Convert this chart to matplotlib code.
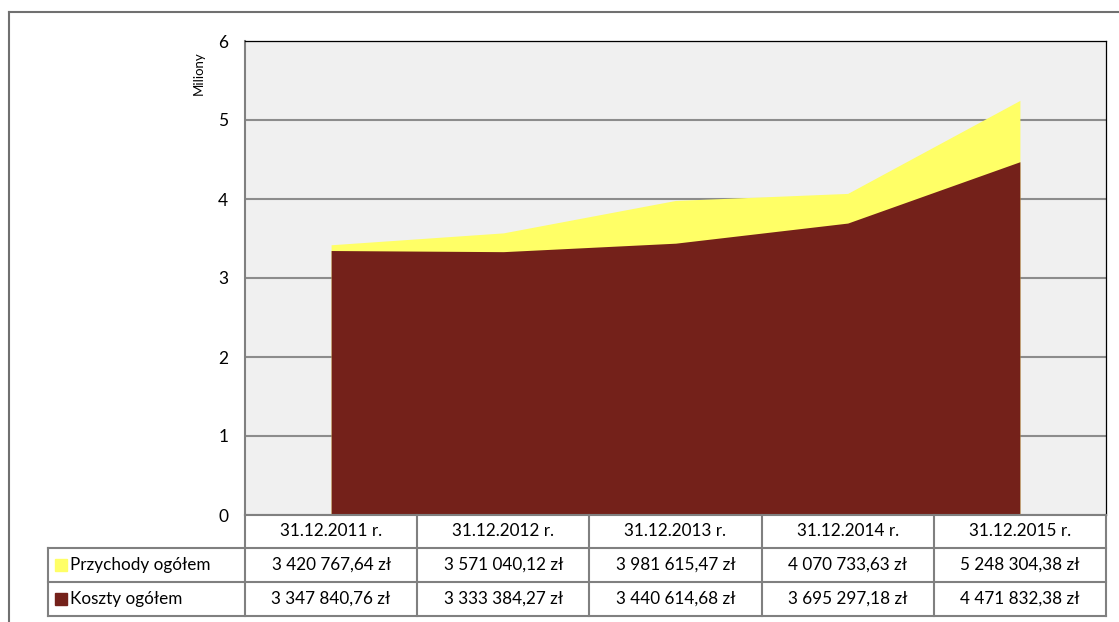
import matplotlib
matplotlib.use("Agg")
import matplotlib.pyplot as plt
from matplotlib.patches import Rectangle
from matplotlib.lines import Line2D

plt.rcParams['font.family'] = ['Lato', 'DejaVu Sans']

categories = ["31.12.2011 r.", "31.12.2012 r.", "31.12.2013 r.", "31.12.2014 r.", "31.12.2015 r."]
przychody = [3420767.64, 3571040.12, 3981615.47, 4070733.63, 5248304.38]
koszty = [3347840.76, 3333384.27, 3440614.68, 3695297.18, 4471832.38]
series_names = ["Przychody ogółem", "Koszty ogółem"]
series_colors = ["#FFFF66", "#74211A"]
y_ticks = [0, 1, 2, 3, 4, 5, 6]


def fmt(v):
    whole, frac = f"{v:.2f}".split(".")
    n = int(whole)
    s = f"{n:,}".replace(",", " ")
    return f"{s},{frac} zł"


W, H = 1119, 622
fig = plt.figure(figsize=(W / 100, H / 100), dpi=100)

# plot area in pixel coords
L, R, T, B = 245, 1106, 41, 515
ax = fig.add_axes([L / W, 1 - B / H, (R - L) / W, (B - T) / H])
ax.set_facecolor("#F0F0F0")
x = list(range(len(categories)))
ax.fill_between(x, [v / 1e6 for v in przychody], 0, color=series_colors[0], lw=0, zorder=2)
ax.fill_between(x, [v / 1e6 for v in koszty], 0, color=series_colors[1], lw=0, zorder=3)
ax.set_xlim(-0.5, len(categories) - 0.5)
ax.set_ylim(0, 6)
ax.set_yticks(y_ticks)
ax.set_yticklabels([str(t) for t in y_ticks], fontsize=12.5)
ax.tick_params(axis="y", length=0, pad=12)
ax.set_xticks([])
ax.grid(axis="y", color="#8C8C8C", lw=1.5, zorder=1)
ax.set_axisbelow(True)
for s in ["top", "right"]:
    ax.spines[s].set_color("#000000")
    ax.spines[s].set_linewidth(0.9)
ax.spines["left"].set_color("#808080")
ax.spines["left"].set_linewidth(1.5)
ax.spines["bottom"].set_visible(False)

fig.text(199 / W, 1 - 73 / H, "Miliony", rotation=90, fontsize=9.5, ha="center", va="center")

# outer chart border (partial, cropped)
fig.add_artist(Line2D([9 / W, 1.0], [1 - 12 / H, 1 - 12 / H], color="#707070", lw=1.5))
fig.add_artist(Line2D([9 / W, 9 / W], [0, 1 - 12 / H], color="#707070", lw=1.5))

# data table
gc = "#808080"
rows_y = [515, 548, 582, 616]
col_x = [L + i * (R - L) / len(categories) for i in range(len(categories) + 1)]
legend_left = 48


def hline(x0, x1, y):
    fig.add_artist(Line2D([x0 / W, x1 / W], [1 - y / H, 1 - y / H], color=gc, lw=1.5))


def vline(xp, y0, y1):
    fig.add_artist(Line2D([xp / W, xp / W], [1 - y0 / H, 1 - y1 / H], color=gc, lw=1.5))


hline(L, R, rows_y[0])
for y in rows_y[1:]:
    hline(legend_left, R, y)
for xp in col_x:
    vline(xp, rows_y[0], rows_y[3])
vline(legend_left, rows_y[1], rows_y[3])

fs = 12.3
for i, c in enumerate(categories):
    cx = (col_x[i] + col_x[i + 1]) / 2
    fig.text(cx / W, 1 - (rows_y[0] + rows_y[1]) / 2 / H, c, ha="center", va="center", fontsize=fs)

for r, (name, vals, col) in enumerate(zip(series_names, [przychody, koszty], series_colors)):
    yc = (rows_y[r + 1] + rows_y[r + 2]) / 2
    fig.add_artist(Rectangle((55 / W, 1 - (yc + 6) / H), 12 / W, 12 / H, color=col,
                             transform=fig.transFigure))
    fig.text(70 / W, 1 - yc / H, name, ha="left", va="center", fontsize=fs)
    for i, v in enumerate(vals):
        cx = (col_x[i] + col_x[i + 1]) / 2
        fig.text(cx / W, 1 - yc / H, fmt(v), ha="center", va="center", fontsize=fs)

fig.savefig("out.png", dpi=100, facecolor="white")
